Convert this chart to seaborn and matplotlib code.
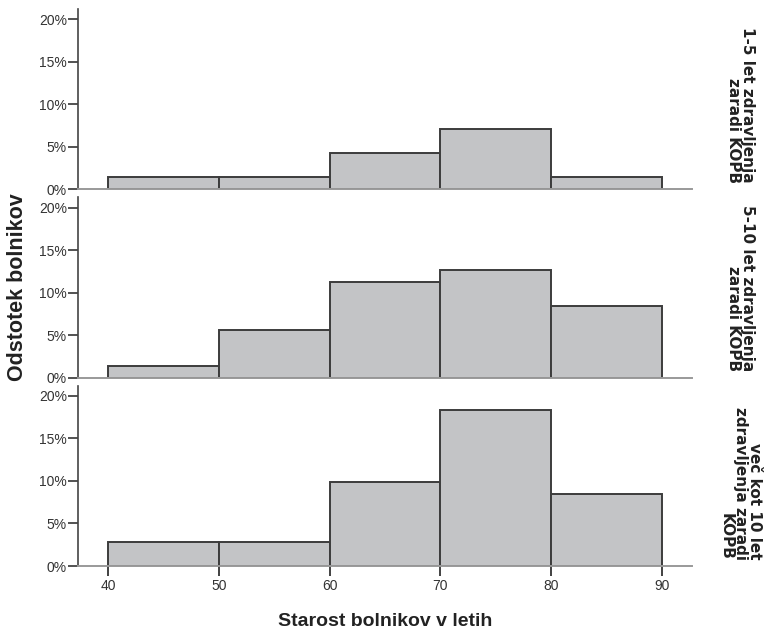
import matplotlib
matplotlib.use("Agg")
import matplotlib.pyplot as plt
import seaborn as sns
import numpy as np
import pandas as pd
from matplotlib.ticker import PercentFormatter

# ---- data (percent of patients per age bin) ----
bin_edges = [40, 50, 60, 70, 80, 90]
bin_starts = [40, 50, 60, 70, 80]
groups = ["1-5 let zdravljenja\nzaradi KOPB",
          "5-10 let zdravljenja\nzaradi KOPB",
          "več kot 10 let\nzdravljenja zaradi\nKOPB"]
pct_1_5 = [1.41, 1.41, 4.23, 7.04, 1.41]
pct_5_10 = [1.41, 5.63, 11.27, 12.68, 8.45]
pct_10plus = [2.82, 2.82, 9.86, 18.31, 8.45]
y_ticks = [0, 5, 10, 15, 20]
x_ticks = [40, 50, 60, 70, 80, 90]
x_label = "Starost bolnikov v letih"
y_label = "Odstotek bolnikov"

series = [pct_1_5, pct_5_10, pct_10plus]

sns.set_theme(style="white")
plt.rcParams['font.family'] = ['Liberation Sans', 'DejaVu Sans']

fig = plt.figure(figsize=(7.72, 6.34), dpi=100)
gs = fig.add_gridspec(3, 1, left=78/772, right=692/772, top=1-9/634,
                      bottom=1-566/634, hspace=0.045)

fill = "#c3c4c6"
edge = "#3c3c3c"
for i, (label, vals) in enumerate(zip(groups, series)):
    ax = fig.add_subplot(gs[i, 0])
    df = pd.DataFrame({"age": bin_starts, "pct": vals})
    sns.histplot(data=df, x="age", weights="pct", bins=bin_edges, ax=ax,
                 color=fill, edgecolor=edge, linewidth=1.4, alpha=1)
    ax.set_xlim(37.3, 92.7)
    ax.set_ylim(0, 21.2)
    ax.set_yticks(y_ticks)
    ax.yaxis.set_major_formatter(PercentFormatter(decimals=0))
    ax.set_xlabel("")
    ax.set_ylabel("")
    for s in ["top", "right"]:
        ax.spines[s].set_visible(False)
    ax.spines["left"].set_color("#444444")
    ax.spines["left"].set_linewidth(1.2)
    ax.spines["bottom"].set_color("#999999")
    ax.spines["bottom"].set_linewidth(1.4)
    ax.tick_params(axis="y", left=True, length=7, width=1.3, color="#444444",
                   labelsize=10, labelcolor="#333333", pad=1)
    if i == 2:
        ax.set_xticks(x_ticks)
        ax.tick_params(axis="x", bottom=True, length=7, width=1.3,
                       color="#333333", labelsize=10, labelcolor="#333333", pad=2)
    else:
        ax.set_xticks(x_ticks)
        ax.tick_params(axis="x", bottom=False, labelbottom=False)
    ax.text(1.079, 0.035, label, transform=ax.transAxes, rotation=270,
            ha="center", va="bottom", multialignment="right",
            fontsize=11, fontweight="bold", color="#222222",
            linespacing=0.95, family=["DejaVu Sans"])

fig.text(385/772, 1-622/634, x_label, ha="center", va="center",
         fontsize=14, fontweight="bold", color="#222222")
fig.text(18/772, 1-287/634, y_label, ha="center", va="center", rotation=90,
         fontsize=15.5, fontweight="bold", color="#222222")

fig.savefig("out.png", dpi=100)
